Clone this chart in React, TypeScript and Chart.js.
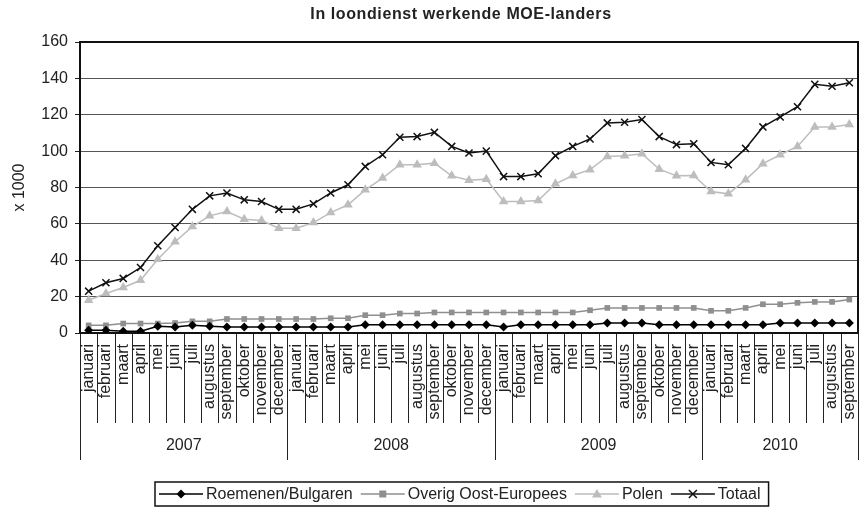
import React, { useEffect, useRef } from 'react';
import { Chart, registerables } from 'chart.js';

Chart.register(...registerables);

const FONT = 'Liberation Sans, Arial, sans-serif';

const chartTitle = 'In loondienst werkende MOE-landers';
const yAxisTitle = 'x 1000';

const monthNames = ['januari', 'februari', 'maart', 'april', 'mei', 'juni', 'juli', 'augustus', 'september', 'oktober', 'november', 'december'];
const years = ['2007', '2008', '2009', '2010'];
const monthsPerYear = [12, 12, 12, 9];
const categories = years.flatMap((_, i) => monthNames.slice(0, monthsPerYear[i]));

const yMin = 0;
const yMax = 160;
const yStep = 20;

const roemenenBulgaren = [
  1.5, 1.5, 1, 1, 3.7, 3.3, 4.2, 3.7, 3.3, 3.3, 3.3, 3.3,
  3.3, 3.3, 3.3, 3.3, 4.6, 4.6, 4.6, 4.6, 4.6, 4.6, 4.6, 4.6,
  3.3, 4.6, 4.6, 4.6, 4.6, 4.6, 5.5, 5.5, 5.5, 4.6, 4.6, 4.6,
  4.6, 4.6, 4.6, 4.6, 5.5, 5.5, 5.5, 5.5, 5.5,
];
const overigOostEuropees = [
  4.2, 4.2, 5.2, 5.2, 5.2, 5.5, 6.4, 6.4, 7.7, 7.7, 7.7, 7.7,
  7.7, 7.7, 8.1, 8.1, 9.8, 9.8, 10.7, 10.7, 11.3, 11.3, 11.3, 11.3,
  11.3, 11.3, 11.3, 11.3, 11.3, 12.5, 13.8, 13.8, 13.8, 13.8, 13.8, 13.8,
  12.2, 12.2, 13.8, 15.8, 15.8, 16.6, 17.1, 17.1, 18.4,
];
const polen = [
  18, 21.7, 25, 29, 40.5, 50.2, 58.5, 64.4, 66.8, 62.6, 61.8, 57.6,
  57.6, 60.7, 66.2, 70.5, 78.7, 85.2, 92.5, 92.5, 93.4, 86.4, 84, 84.6,
  72.3, 72.3, 72.8, 82, 86.6, 89.8, 97.1, 97.5, 98.6, 90.1, 86.4, 86.6,
  77.8, 76.5, 84.2, 93.1, 98, 102.6, 113.3, 113.3, 114.6,
];
const totaal = [
  23, 27.6, 30, 36, 48, 58, 68, 75.4, 77, 73.2, 72.3, 68,
  68, 71, 77, 81.5, 91.6, 98, 107.6, 108, 110.3, 102.6, 99, 100,
  86, 86, 87.6, 97.5, 102.6, 106.7, 115.5, 115.9, 117.4, 108, 103.6, 104,
  93.8, 92.5, 101.5, 113.3, 118.8, 124.4, 136.7, 135.7, 137.6,
];

const seriesLabels = ['Roemenen/Bulgaren', 'Overig Oost-Europees', 'Polen', 'Totaal'];
const seriesColors = ['#000000', '#8f8f8f', '#bdbdbd', '#111111'];
const seriesMarkers = ['diamond', 'square', 'triangle', 'cross'];

function drawMarker(ctx: CanvasRenderingContext2D, kind: string, x: number, y: number, color: string) {
  ctx.save();
  ctx.fillStyle = color;
  ctx.strokeStyle = color;
  ctx.beginPath();
  if (kind === 'diamond') {
    const r = 4.5;
    ctx.moveTo(x, y - r); ctx.lineTo(x + r, y); ctx.lineTo(x, y + r); ctx.lineTo(x - r, y); ctx.closePath(); ctx.fill();
  } else if (kind === 'square') {
    ctx.rect(x - 3.5, y - 3.5, 7, 7); ctx.fill();
  } else if (kind === 'triangle') {
    ctx.moveTo(x, y - 5); ctx.lineTo(x + 5, y + 3.5); ctx.lineTo(x - 5, y + 3.5); ctx.closePath(); ctx.fill();
  } else {
    const r = 4;
    ctx.lineWidth = 1.5;
    ctx.moveTo(x - r, y - r); ctx.lineTo(x + r, y + r); ctx.moveTo(x + r, y - r); ctx.lineTo(x - r, y + r); ctx.stroke();
  }
  ctx.restore();
}

const framePlugin = {
  id: 'excelFrame',
  beforeDatasetsDraw(chart: any) {
    const { ctx, chartArea } = chart;
    const xs = chart.scales.x;
    const n = categories.length;
    const step = xs.getPixelForTick(1) - xs.getPixelForTick(0);
    ctx.save();
    ctx.strokeStyle = '#222';
    ctx.lineWidth = 1;
    const boundaries: number[] = [0];
    let acc = 0;
    monthsPerYear.forEach((m) => { acc += m; boundaries.push(acc); });
    for (let i = 0; i <= n; i++) {
      const px = i < n ? xs.getPixelForTick(i) - step / 2 : xs.getPixelForTick(n - 1) + step / 2;
      const isYear = boundaries.includes(i);
      const len = isYear ? 127 : 90;
      const xx = Math.round(px) + 0.5;
      ctx.beginPath();
      ctx.moveTo(xx, chartArea.bottom);
      ctx.lineTo(xx, chartArea.bottom + len);
      ctx.stroke();
    }
    ctx.fillStyle = '#222';
    ctx.font = `16px ${FONT}`;
    ctx.textAlign = 'center';
    ctx.textBaseline = 'middle';
    for (let k = 0; k < years.length; k++) {
      const a = xs.getPixelForTick(boundaries[k]) - step / 2;
      const b = xs.getPixelForTick(boundaries[k + 1] - 1) + step / 2;
      ctx.fillText(years[k], (a + b) / 2, chartArea.bottom + 113);
    }
    ctx.strokeStyle = '#111';
    ctx.lineWidth = 2;
    ctx.strokeRect(chartArea.left, chartArea.top, chartArea.right - chartArea.left, chartArea.bottom - chartArea.top);
    ctx.restore();
  },
  afterDraw(chart: any) {
    const { ctx } = chart;
    ctx.save();
    ctx.fillStyle = '#222';
    ctx.font = `bold 16px ${FONT}`;
    try { (ctx as any).letterSpacing = '0.6px'; } catch (e) { /* ignore */ }
    ctx.textAlign = 'center';
    ctx.textBaseline = 'middle';
    ctx.fillText(chartTitle, 461, 15);
    try { (ctx as any).letterSpacing = '0px'; } catch (e) { /* ignore */ }

    ctx.font = `16px ${FONT}`;
    const lineLen = 44;
    const gapText = 3;
    const gapItem = 8;
    const widths = seriesLabels.map((l) => ctx.measureText(l).width);
    const total = widths.reduce((s, w) => s + lineLen + gapText + w, 0) + gapItem * (seriesLabels.length - 1);
    const padX = 4;
    const boxW = total + padX * 2 + 4;
    const boxLeft = Math.round(462 - boxW / 2);
    const boxTop = 482;
    const boxH = 24;
    const cy = boxTop + boxH / 2;
    ctx.strokeStyle = '#111';
    ctx.lineWidth = 1.5;
    ctx.strokeRect(boxLeft, boxTop, boxW, boxH);
    let x = boxLeft + padX;
    ctx.textBaseline = 'middle';
    ctx.textAlign = 'left';
    seriesLabels.forEach((label, i) => {
      ctx.strokeStyle = seriesColors[i];
      ctx.lineWidth = 1.5;
      ctx.beginPath();
      ctx.moveTo(x, cy);
      ctx.lineTo(x + lineLen, cy);
      ctx.stroke();
      drawMarker(ctx, seriesMarkers[i], x + lineLen / 2, cy, seriesColors[i]);
      x += lineLen + gapText;
      ctx.fillStyle = '#222';
      ctx.fillText(label, x, cy + 1);
      x += widths[i] + gapItem;
    });
    ctx.restore();
  },
};

export default function App() {
  const canvasRef = useRef<HTMLCanvasElement | null>(null);

  useEffect(() => {
    if (!canvasRef.current) return;
    const tickFont = { family: FONT, size: 16 };
    const chart = new Chart(canvasRef.current, {
      type: 'line',
      data: {
        labels: categories,
        datasets: [
          {
            label: seriesLabels[0],
            data: roemenenBulgaren,
            borderColor: seriesColors[0],
            backgroundColor: seriesColors[0],
            borderWidth: 1.5,
            pointStyle: 'rectRot',
            pointRadius: 4.5,
            pointBorderWidth: 0,
            tension: 0,
          },
          {
            label: seriesLabels[1],
            data: overigOostEuropees,
            borderColor: seriesColors[1],
            backgroundColor: seriesColors[1],
            borderWidth: 1.5,
            pointStyle: 'rect',
            pointRadius: 4,
            pointBorderWidth: 0,
            tension: 0,
          },
          {
            label: seriesLabels[2],
            data: polen,
            borderColor: seriesColors[2],
            backgroundColor: seriesColors[2],
            borderWidth: 1.5,
            pointStyle: 'triangle',
            pointRadius: 5.5,
            pointBorderWidth: 0,
            tension: 0,
          },
          {
            label: seriesLabels[3],
            data: totaal,
            borderColor: seriesColors[3],
            backgroundColor: seriesColors[3],
            borderWidth: 1.5,
            pointStyle: 'crossRot',
            pointRadius: 5,
            pointBorderWidth: 1.5,
            tension: 0,
          },
        ],
      },
      options: {
        animation: false,
        responsive: true,
        maintainAspectRatio: false,
        layout: { padding: { left: 0, right: 7, top: 42, bottom: 0 } },
        plugins: {
          legend: { display: false },
          tooltip: { enabled: false },
          title: { display: false },
        },
        scales: {
          x: {
            type: 'category',
            offset: true,
            grid: { display: false },
            border: { display: false },
            ticks: {
              autoSkip: false,
              maxRotation: 90,
              minRotation: 90,
              font: tickFont,
              color: '#222',
              padding: 3,
            },
            afterFit: (s: any) => { s.height = 178; s.paddingLeft = 0; s.paddingRight = 0; },
          },
          y: {
            min: yMin,
            max: yMax,
            ticks: { stepSize: yStep, font: tickFont, color: '#222', padding: 7 },
            grid: { color: '#555', lineWidth: 1, tickLength: 5, tickColor: '#222' },
            border: { display: false },
            title: {
              display: true,
              text: yAxisTitle,
              font: tickFont,
              color: '#222',
              padding: { top: 10, bottom: 0 },
            },
            afterFit: (s: any) => { s.width = 80; s.paddingTop = 0; s.paddingBottom = 0; },
          },
        },
      },
      plugins: [framePlugin],
    });
    return () => chart.destroy();
  }, []);

  return (
    <div style={{ position: 'absolute', left: 0, top: 0, width: '865px', height: '511px', background: '#fff' }}>
      <canvas ref={canvasRef} />
    </div>
  );
}
